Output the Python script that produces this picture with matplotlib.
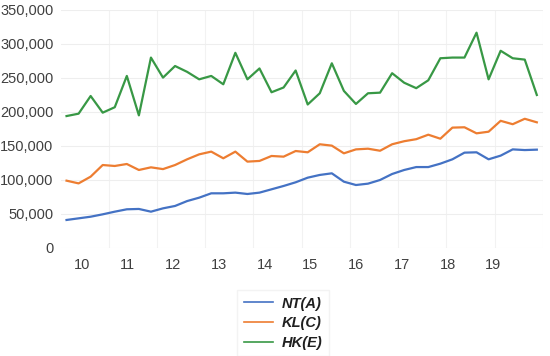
import numpy as np
import matplotlib
matplotlib.use("Agg")
from matplotlib import pyplot as plt
from matplotlib.ticker import FuncFormatter

# quarterly values, 2010 Q1 .. 2019 Q4
nt_a = [41200, 43600, 46000, 49500, 53400, 56900, 57400, 53400, 58300, 61800,
        69000, 74000, 80400, 80400, 81400, 79400, 81400, 86300, 91200, 96600,
        103400, 107400, 109800, 97500, 92600, 94600, 100000, 108800, 114700, 119000,
        119000, 124000, 130400, 140200, 140700, 130400, 135800, 145000, 144000, 144600]
kl_c = [99000, 95000, 104900, 122000, 120600, 123500, 114700, 118600, 116000, 122000,
        130400, 137700, 141700, 131900, 141700, 127000, 128000, 135300, 134300, 142600,
        140700, 152500, 150500, 139200, 145000, 146000, 143000, 152500, 157000, 160000,
        166600, 160700, 177000, 177500, 168600, 171000, 187000, 182000, 190000, 184800]
hk_e = [194000, 197500, 223500, 199000, 207000, 253000, 195000, 280000, 250500, 267600,
        259000, 248000, 253000, 240700, 287000, 248000, 264000, 229000, 236000, 261000,
        211000, 227500, 271600, 231000, 211800, 227500, 228400, 257000, 243000, 235000,
        246600, 279000, 280000, 280000, 316600, 248000, 290000, 279000, 277000, 225000]
series_names = ["NT(A)", "KL(C)", "HK(E)"]
colors = ["#4472C4", "#ED7D31", "#389845"]
year_labels = ["10", "11", "12", "13", "14", "15", "16", "17", "18", "19"]

plt.rcParams['font.family'] = ['Liberation Sans', 'DejaVu Sans']
txt = "#404040"

fig = plt.figure(figsize=(5.5, 3.56), dpi=100)
ax = fig.add_axes([0.110, 0.3034, 0.877, 0.6686])

x = np.arange(len(nt_a))
lines = []
for vals, name, c in zip([nt_a, kl_c, hk_e], series_names, colors):
    ln, = ax.plot(x, vals, color=c, lw=1.6, label=name)
    lines.append(ln)

ax.set_xlim(-0.5, len(x) - 0.5)
ax.set_ylim(0, 350000)
ax.set_yticks(np.arange(0, 350001, 50000))
ax.yaxis.set_major_formatter(FuncFormatter(lambda v, p: "{:,.0f}".format(v)))

# year labels sit roughly under each group of quarters
ax.set_xticks(np.linspace(1.27, 35.4, len(year_labels)))
ax.set_xticklabels(year_labels)
ax.set_xticks(np.arange(3.5, len(x), 4), minor=True)

ax.grid(axis='y', color='#eeeeee', lw=0.8)
ax.grid(axis='x', which='minor', color='#f2f2f2', lw=0.8)
ax.set_axisbelow(True)
for s in ax.spines.values():
    s.set_visible(False)
ax.tick_params(axis='both', which='both', length=0, labelsize=10.5, colors=txt)
ax.tick_params(axis='y', pad=5)
ax.tick_params(axis='x', pad=7)

leg = fig.legend(handles=lines, loc='upper left', bbox_to_anchor=(237 / 550, 1 - 290 / 356),
                 borderaxespad=0, frameon=True, fancybox=False, edgecolor='#f0f0f0',
                 handlelength=2.0, labelspacing=0.38, borderpad=0.45, handletextpad=0.6,
                 prop={'weight': 'bold', 'style': 'italic', 'size': 10.5})
for t in leg.get_texts():
    t.set_color('#202020')
for h in leg.legend_handles:
    h.set_linewidth(1.2)

fig.savefig("out.png", dpi=100)
